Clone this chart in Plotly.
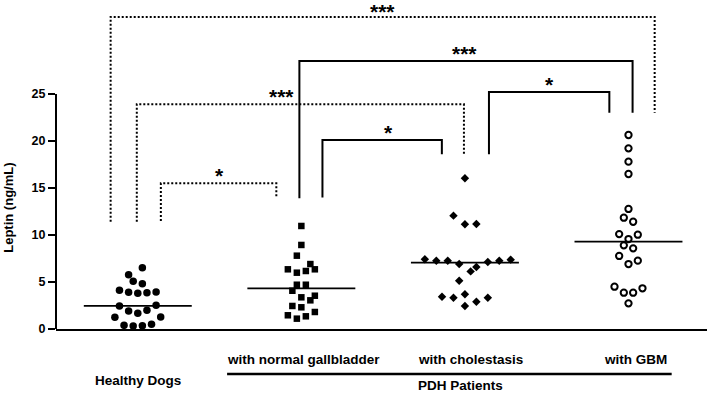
import plotly.graph_objects as go

# ---------------- data ----------------
groups = ["Healthy Dogs", "with normal gallbladder", "with cholestasis", "with GBM"]
group_label = "PDH Patients"
y_title = "Leptin (ng/mL)"
y_ticks = [0, 5, 10, 15, 20, 25]

healthy = [6.52, 5.78, 5.07, 4.82, 4.11, 3.90, 3.80, 3.86, 3.94, 2.45,
           2.52, 1.91, 1.67, 1.99, 1.24, 1.27, 0.39, 0.32, 0.35, 0.50]
normal = [10.96, 8.94, 7.80, 6.91, 6.35, 5.99, 6.17, 6.35, 4.71, 4.71,
          4.07, 3.37, 3.05, 3.54, 2.45, 2.31, 1.46, 1.10, 1.35, 1.81]
cholestasis = [16.03, 12.06, 11.14, 11.17, 7.41, 7.27, 7.27, 6.91, 7.13, 7.27,
               7.38, 6.60, 6.13, 5.14, 3.44, 3.33, 3.69, 2.90, 3.33, 2.45]
gbm = [20.64, 19.22, 17.80, 16.49, 12.77, 11.84, 11.41, 10.10, 10.03, 9.57,
       8.90, 8.58, 7.77, 6.91, 7.27, 4.50, 3.86, 3.86, 4.33, 2.73]
medians = [2.45, 4.33, 7.06, 9.29]

# beeswarm slots (in marker widths) as arranged in the reference
healthy_slot = [0.5, -1, -0.5, 0.5, -2, -1, 0, 1, 2, -2, 2, -1, 0, 1, -2.5, 2.5, -1.5, -0.5, 0.5, 1.5]
normal_slot = [0, 0, -0.5, 1, -1.5, -0.5, 0.5, 1.5, -0.5, 0.5, -1, 0, 1, 1.5, -1, 0, -1.5, -0.5, 0.5, 1.5]
chol_slot = [0, -1, 0, 1, -3.5, -2.5, -1.5, -0.5, 2, 3, 4, 1, 0.5, -0.5, -2, -1, 0, 1, 2, 0]
gbm_slot = [0, 0, 0, 0, 0, -0.5, 0.5, -1, 1, 0, -0.5, 0.5, -1, 0, 1, -1.5, -0.5, 0.5, 1.5, 0]

# significance comparisons: (label, dotted, x_left, x_right, y_top, y_left_end, y_right_end, label_x)
comparisons = [
    ("***", True, -0.166, 3.16, 33.2, 11.4, 23.0, 1.497),
    ("***", False, 0.988, 3.025, 28.5, 13.9, 23.0, 2.0),
    ("*", False, 2.147, 2.883, 25.2, 18.6, 23.0, 2.515),
    ("***", True, -0.006, 1.994, 23.9, 11.4, 18.5, 0.88),
    ("*", False, 1.129, 1.859, 20.1, 14.0, 18.6, 1.534),
    ("*", True, 0.141, 0.847, 15.5, 11.5, 13.9, 0.497),
]

# ---------------- figure ----------------
FONT = "Liberation Sans, Arial, sans-serif"
PLOT_H = 329.0  # plot-area height in px, used to place texts below the axis in paper units
fig = go.Figure()

series = [
    (healthy, healthy_slot, 0.056, dict(symbol="circle", size=7.5, color="black")),
    (normal, normal_slot, 0.055, dict(symbol="square", size=6.5, color="black")),
    (cholestasis, chol_slot, 0.070, dict(symbol="diamond", size=6.5, color="black")),
    (gbm, gbm_slot, 0.057, dict(symbol="circle-open", size=6.3, color="black", line=dict(width=2, color="black"))),
]
for i, (vals, slots, sp, mk) in enumerate(series):
    fig.add_trace(go.Scatter(
        x=[i + s * sp for s in slots], y=vals, mode="markers",
        marker=mk, showlegend=False, hoverinfo="y"))
    fig.add_trace(go.Scatter(
        x=[i - 0.33, i + 0.33], y=[medians[i], medians[i]], mode="lines",
        line=dict(color="black", width=1.7), showlegend=False, hoverinfo="skip"))

for k, (lab, dotted, xl, xr, yt, yl, yr, lx) in enumerate(comparisons):
    fig.add_trace(go.Scatter(
        x=[xl, xl, xr, xr], y=[yl, yt, yt, yr], mode="lines",
        line=dict(color="black", width=2, dash="2px,2px" if dotted else "solid"),
        showlegend=False, hoverinfo="skip"))
    fig.add_annotation(x=lx, y=yt, xref="x", yref="y", text=f"<b>{lab}</b>",
                       showarrow=False, yanchor="bottom", yshift=-6 if k else -8,
                       font=dict(family=FONT, size=21, color="black"))

# y axis line (only up to 25)
fig.add_shape(type="line", xref="paper", yref="y", x0=0, x1=0, y0=0, y1=25,
              line=dict(color="black", width=2))

# group labels (below the axis, in paper units)
def below(px):
    return -px / PLOT_H

label_off = [52, 30, 30, 30]
label_dx = [0.0, 0.012, 0.037, 0.043]
for i, g in enumerate(groups):
    fig.add_annotation(x=i + label_dx[i], y=below(label_off[i]), xref="x", yref="paper",
                       xanchor="center", yanchor="middle",
                       text=f"<b>{g}</b>", showarrow=False,
                       font=dict(family=FONT, size=13.5, color="black"))
fig.add_shape(type="line", xref="x", yref="paper", x0=0.546, x1=3.264,
              y0=below(45), y1=below(45), line=dict(color="black", width=2.5))
fig.add_annotation(x=1.97, y=below(56), xref="x", yref="paper", text=f"<b>{group_label}</b>",
                   xanchor="center", yanchor="middle",
                   showarrow=False, font=dict(family=FONT, size=13.5, color="black"))

# y title
fig.add_annotation(x=0, y=12.9, xref="paper", yref="y", xshift=-47,
                   xanchor="center", yanchor="middle",
                   text=f"<b>{y_title}</b>", textangle=-90, showarrow=False,
                   font=dict(family=FONT, size=13, color="black"))

fig.update_layout(
    width=709, height=404,
    margin=dict(l=56, r=2, t=0, b=75),
    paper_bgcolor="white", plot_bgcolor="white",
    xaxis=dict(range=[-0.5, 3.48], showgrid=False, zeroline=False,
               showline=True, linecolor="black", linewidth=2,
               showticklabels=False, ticks=""),
    yaxis=dict(range=[0, 35], showgrid=False, zeroline=False, showline=False,
               tickvals=y_ticks, ticktext=[f"<b>{t}</b>" for t in y_ticks],
               ticks="outside", ticklen=7, tickwidth=2, tickcolor="black",
               tickfont=dict(family=FONT, size=12.5, color="black")),
    font=dict(family=FONT),
)

fig.write_html("out.html", config={"displayModeBar": False},
               post_script="document.body.style.margin='0';document.body.style.overflow='hidden';")
